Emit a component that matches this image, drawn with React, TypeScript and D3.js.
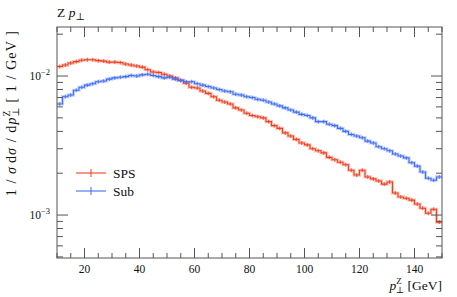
import React from "react";
import * as d3 from "d3";

const W = 457;
const H = 297;
const MARGIN = { top: 27, right: 15, bottom: 39, left: 57 };

// bin centres in GeV, 2 GeV bins from 10 to 150
const binCentres = d3.range(11, 150, 2);

const spsValues = [
  0.0117, 0.012, 0.0124, 0.0127, 0.013, 0.0131, 0.0131, 0.0129, 0.0128, 0.0126,
  0.0126, 0.0125, 0.0122, 0.012, 0.0118, 0.0116, 0.0111, 0.0107, 0.0106, 0.0103,
  0.01, 0.0097, 0.0093, 0.0089, 0.0083, 0.0082, 0.0078, 0.0075, 0.0071, 0.0067,
  0.0065, 0.0063, 0.0059, 0.0057, 0.0054, 0.0052, 0.0051, 0.005, 0.0047, 0.0044,
  0.0042, 0.0039, 0.0037, 0.0035, 0.0033, 0.0032, 0.003, 0.0029, 0.0028, 0.0026,
  0.0025, 0.0024, 0.0023, 0.0021, 0.00194, 0.0021, 0.00188, 0.00182, 0.00176, 0.00167,
  0.00173, 0.00144, 0.00135, 0.00132, 0.00128, 0.0012, 0.00112, 0.00103, 0.0011, 0.00089,
];

const subValues = [
  0.0063, 0.0071, 0.0073, 0.0079, 0.0083, 0.0086, 0.0088, 0.0091, 0.0092, 0.0095,
  0.0097, 0.0098, 0.0099, 0.0101, 0.01, 0.0102, 0.0103, 0.0101, 0.0099, 0.0097,
  0.0098, 0.0095, 0.0093, 0.0091, 0.0091, 0.0088, 0.0086, 0.0084, 0.0082, 0.008,
  0.0078, 0.0077, 0.0074, 0.0073, 0.0071, 0.007, 0.0068, 0.0067, 0.0065, 0.0063,
  0.0061, 0.0059, 0.0057, 0.0055, 0.0053, 0.0052, 0.005, 0.0047, 0.0047, 0.0045,
  0.0044, 0.0042, 0.004, 0.0038, 0.0037, 0.0036, 0.0034, 0.0033, 0.0031, 0.003,
  0.0029, 0.00275, 0.00266, 0.00258, 0.00238, 0.00225, 0.00204, 0.00184, 0.00178, 0.00188,
];

const xTickLabels = [20, 40, 60, 80, 100, 120, 140];
const yDecades = [1e-3, 1e-2];

const SERIES = [
  { name: "SPS", values: spsValues, color: "#ef4020", legendY: 173 },
  { name: "Sub", values: subValues, color: "#3f6ef5", legendY: 191 },
];

const FONT = "Liberation Serif, DejaVu Serif, serif";
const txt = { fontFamily: FONT, fill: "#111" };

export default function App() {
  const innerW = W - MARGIN.left - MARGIN.right;
  const innerH = H - MARGIN.top - MARGIN.bottom;
  const x = d3.scaleLinear().domain([10, 150]).range([MARGIN.left, MARGIN.left + innerW]);
  const y = d3
    .scaleLog()
    .domain([0.000491, 0.02253])
    .range([MARGIN.top + innerH, MARGIN.top]);

  const x0 = MARGIN.left;
  const x1 = MARGIN.left + innerW;
  const y0 = MARGIN.top + innerH;
  const y1 = MARGIN.top;

  const xMinor = d3.range(10, 151, 5).filter((v) => v % 20 !== 0);
  const yMinor: number[] = [];
  [1e-4, 1e-3, 1e-2].forEach((dec) => {
    for (let k = 2; k <= 9; k++) {
      const v = k * dec;
      if (v >= 0.000491 && v <= 0.02253) yMinor.push(v);
    }
  });

  const step = d3
    .line<{ e: number; v: number }>()
    .x((d) => x(d.e))
    .y((d) => y(d.v))
    .curve(d3.curveStepAfter);

  const stroke = "#555";

  return (
    <svg width={W} height={H} style={{ position: "absolute", left: 0, top: 0, background: "#fff" }}>
      {/* data */}
      {SERIES.map((s) => {
        const pts = s.values.map((v, i) => ({ e: binCentres[i] - 1, v }));
        pts.push({ e: 150, v: s.values[s.values.length - 1] });
        const d = step(pts) || "";
        return (
          <g key={s.name}>
            <path d={d} fill="none" stroke={s.color} strokeOpacity={0.3} strokeWidth={3.2} />
            <path d={d} fill="none" stroke={s.color} strokeWidth={1.1} />
            {s.values.map((v, i) => (
              <line
                key={i}
                x1={x(binCentres[i])}
                x2={x(binCentres[i])}
                y1={y(v) - 2}
                y2={y(v) + 2}
                stroke={s.color}
                strokeWidth={0.9}
              />
            ))}
          </g>
        );
      })}

      {/* frame */}
      <rect x={x0} y={y1} width={innerW} height={innerH} fill="none" stroke={stroke} strokeWidth={1} />

      {/* x ticks */}
      {xMinor.map((v) => (
        <g key={"xm" + v}>
          <line x1={x(v)} x2={x(v)} y1={y0} y2={y0 - 5} stroke={stroke} />
          <line x1={x(v)} x2={x(v)} y1={y1} y2={y1 + 5} stroke={stroke} />
        </g>
      ))}
      {xTickLabels.map((v) => (
        <g key={"xM" + v}>
          <line x1={x(v)} x2={x(v)} y1={y0} y2={y0 - 10} stroke={stroke} />
          <line x1={x(v)} x2={x(v)} y1={y1} y2={y1 + 10} stroke={stroke} />
          <text x={x(v)} y={y0 + 15} textAnchor="middle" fontSize={11.5} style={txt}>
            {v}
          </text>
        </g>
      ))}

      {/* y ticks */}
      {yMinor.map((v) => (
        <g key={"ym" + v}>
          <line x1={x0} x2={x0 + 6} y1={y(v)} y2={y(v)} stroke={stroke} />
          <line x1={x1} x2={x1 - 6} y1={y(v)} y2={y(v)} stroke={stroke} />
        </g>
      ))}
      {yDecades.map((v) => (
        <g key={"yM" + v}>
          <line x1={x0} x2={x0 + 11} y1={y(v)} y2={y(v)} stroke={stroke} />
          <line x1={x1} x2={x1 - 11} y1={y(v)} y2={y(v)} stroke={stroke} />
          <text x={x0 - 7} y={y(v) + 4} textAnchor="end" fontSize={11.5} style={txt}>
            10
            <tspan dy={-5} fontSize={8.5}>
              {"\u2212" + Math.round(-Math.log10(v))}
            </tspan>
          </text>
        </g>
      ))}

      {/* title */}
      <text x={x0} y={17} fontSize={13.5} style={txt}>
        Z <tspan fontStyle="italic">p</tspan>
        <tspan dy={3} fontSize={10}>⊥</tspan>
      </text>

      {/* x label */}
      <text x={x1} y={290} textAnchor="end" fontSize={13.5} style={txt}>
        <tspan fontStyle="italic">p</tspan>
        <tspan dy={-6} fontSize={9}>Z</tspan>
        <tspan dx={-6} dy={9} fontSize={9}>⊥</tspan>
        <tspan dy={-3}> [GeV]</tspan>
      </text>

      {/* y label */}
      <text
        transform={`translate(16,${y1 + 3}) rotate(-90)`}
        textAnchor="end"
        fontSize={14}
        letterSpacing={1.1}
        style={txt}
      >
        <tspan>1 / </tspan>
        <tspan fontStyle="italic">σ</tspan>
        <tspan dx={3}>d</tspan>
        <tspan fontStyle="italic">σ</tspan>
        <tspan> / d</tspan>
        <tspan fontStyle="italic">p</tspan>
        <tspan dy={-6} fontSize={9.5}>Z</tspan>
        <tspan dx={-7} dy={9} fontSize={9.5}>⊥</tspan>
        <tspan dx={4} dy={-3}>[ 1 / GeV ]</tspan>
      </text>

      {/* legend */}
      {SERIES.map((s) => (
        <g key={"lg" + s.name}>
          <line x1={76} x2={106} y1={s.legendY} y2={s.legendY} stroke={s.color} strokeWidth={1.1} />
          <line x1={91} x2={91} y1={s.legendY - 4} y2={s.legendY + 4} stroke={s.color} strokeWidth={1} />
          <text x={113} y={s.legendY + 4.5} fontSize={13.5} style={txt}>
            {s.name}
          </text>
        </g>
      ))}
    </svg>
  );
}
